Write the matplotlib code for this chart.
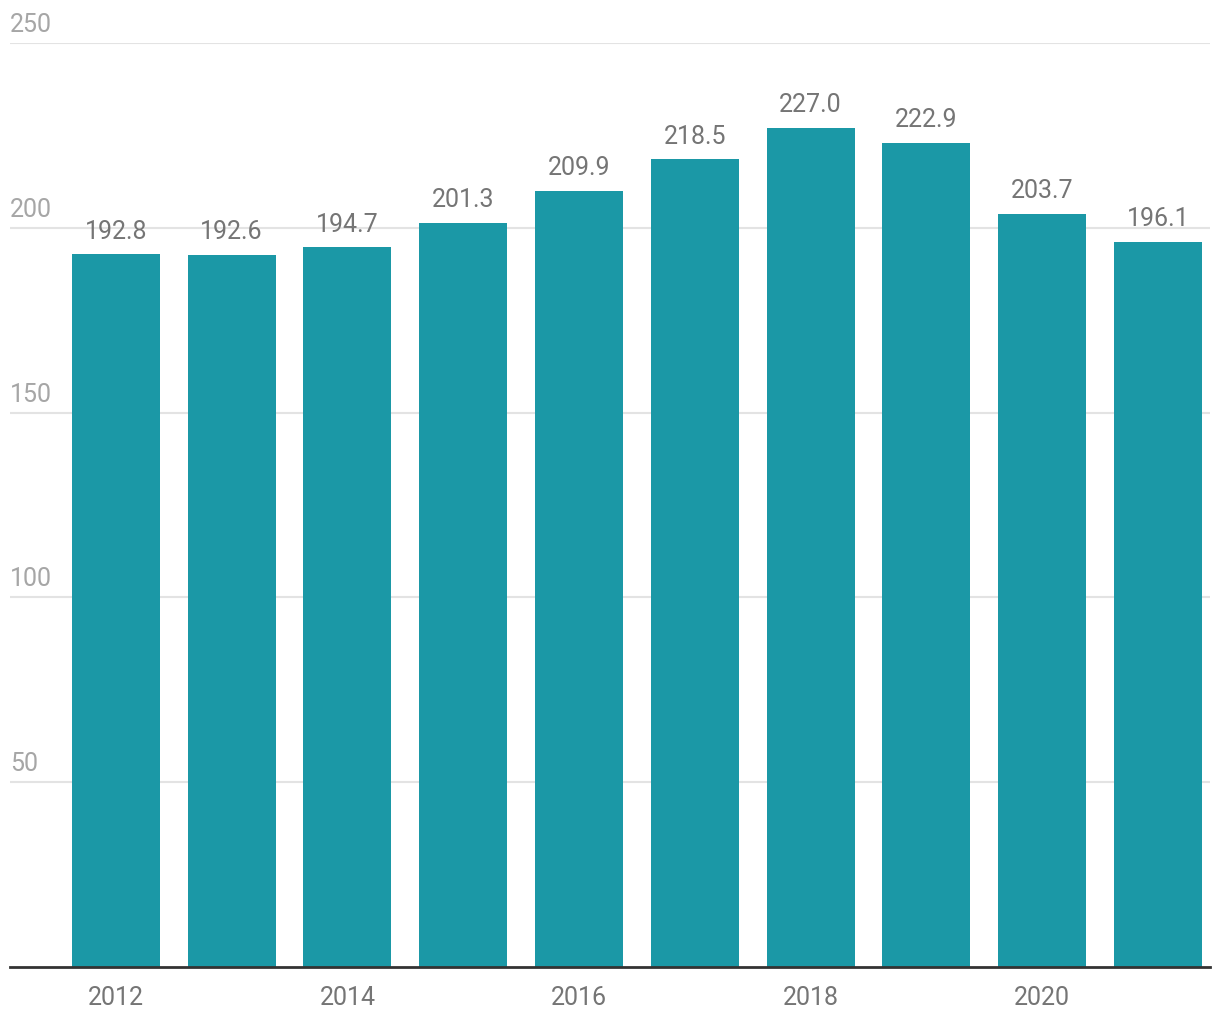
import matplotlib
matplotlib.use("Agg")
import matplotlib.pyplot as plt
from matplotlib.transforms import offset_copy

years = [2012, 2013, 2014, 2015, 2016, 2017, 2018, 2019, 2020, 2021]
values = [192.8, 192.6, 194.7, 201.3, 209.9, 218.5, 227.0, 222.9, 203.7, 196.1]
y_ticks = [50, 100, 150, 200, 250]
x_tick_years = [2012, 2014, 2016, 2018, 2020]

plt.rcParams['font.family'] = ['Roboto', 'DejaVu Sans']

fig = plt.figure(figsize=(12.2, 10.2), dpi=100)
ax = fig.add_axes([10/1220, 52/1020, 1200/1220, 924/1020])

xs = list(range(len(years)))
ax.bar(xs, values, width=0.76, color='#1b98a6', zorder=2)
ax.set_xlim(-0.915, 9.45)
ax.set_ylim(0, 250)

for t in y_ticks:
    ax.axhline(t, color='#e3e3e3', lw=1.5, zorder=1)
    tr = offset_copy(ax.get_yaxis_transform(), fig=fig, x=0, y=7, units='dots')
    ax.text(0, t, str(t), transform=tr, ha='left', va='bottom',
            fontsize=18, color='#a6a6a6')

for x, v in zip(xs, values):
    ax.annotate(f"{v:.1f}", (x, v), xytext=(0, 8.5), textcoords='offset points',
                ha='center', va='bottom', fontsize=18, color='#757575', zorder=3)

ax.set_xticks([years.index(y) for y in x_tick_years])
ax.set_xticklabels([str(y) for y in x_tick_years], fontsize=18, color='#757575')
ax.tick_params(axis='x', length=0, pad=13)
ax.set_yticks([])
for s in ['top', 'right', 'left']:
    ax.spines[s].set_visible(False)
ax.spines['bottom'].set_color('#333333')
ax.spines['bottom'].set_linewidth(2)
ax.spines['bottom'].set_zorder(4)

fig.savefig('out.png', dpi=100)
